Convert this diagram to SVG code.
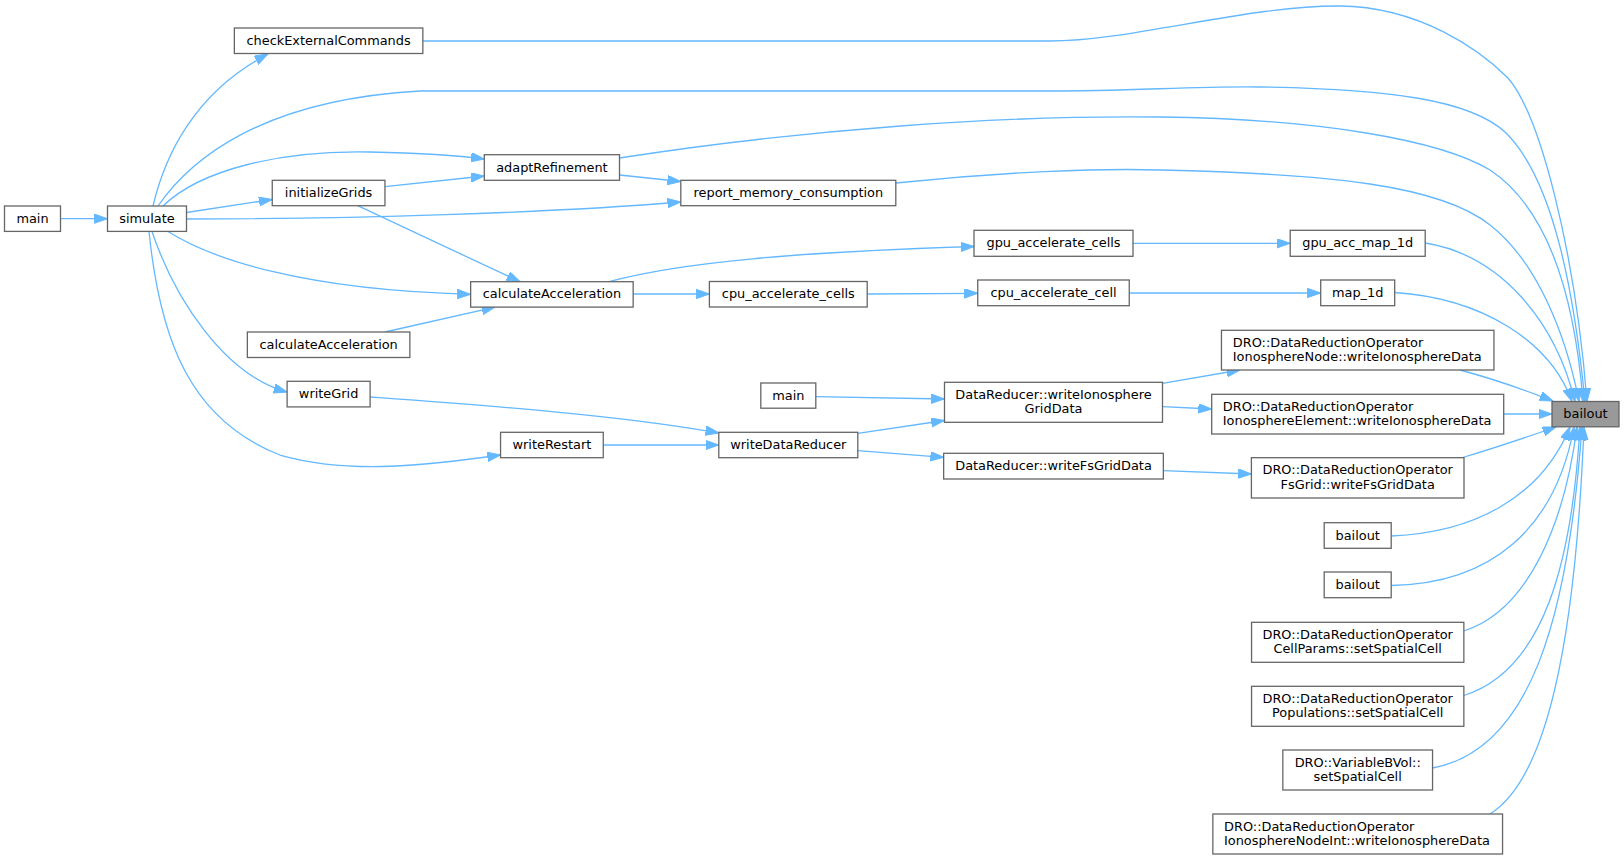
<svg xmlns="http://www.w3.org/2000/svg" width="1624" height="860" viewBox="0 0 1624 860">
<style>
.n rect{fill:#ffffff;stroke:#666666;stroke-width:1.3}
.n.hl rect{fill:#999999}
.n text{font-family:"DejaVu Sans","Liberation Sans",sans-serif;font-size:12.9px;fill:#000000;text-anchor:middle}
.n text.l{text-anchor:start}
#edges path{fill:none;stroke:#63b8ff;stroke-width:1.3;marker-end:url(#arr)}
</style>
<defs>
<marker id="arr" markerUnits="userSpaceOnUse" markerWidth="14" markerHeight="10" refX="13.3" refY="4.67" orient="auto">
<path d="M0,0 L13.3,4.67 L0,9.33 z" fill="#63b8ff" stroke="#63b8ff" stroke-width="1"/>
</marker>
</defs>
<rect x="0" y="0" width="1624" height="860" fill="#ffffff"/>
<g id="edges">
<path d="M60.5,218.7 L107.5,218.7"/>
<path d="M153,206 C165,155 195,92 268,54"/>
<path d="M158,206 C190,160 260,100 420,91 L1050,91 C1130,91 1200,86 1260,87 C1390,89 1470,100 1505,132 C1555,180 1575,300 1585,401.5"/>
<path d="M163,206 C200,170 280,150 370,152 C420,153 455,155 484.3,159"/>
<path d="M186.5,212.5 L272.25,199.5"/>
<path d="M186.5,219 C350,219 550,213 680.8,202"/>
<path d="M168,231.5 C210,258 300,290 470.65,294.3"/>
<path d="M152,231.5 C175,300 225,375 287.1,392"/>
<path d="M149,231.5 C160,340 190,420 280,455 C350,475 430,465 500.55,455"/>
<path d="M385,186.7 L484.3,176"/>
<path d="M357.7,205.7 L520,281.7"/>
<path d="M619.5,175 L680.8,181.5"/>
<path d="M619.5,158 C800,130 1000,115 1160,117 C1320,119 1440,140 1490,170 C1550,210 1575,300 1583,401.5"/>
<path d="M423,41 L1050,41 C1130,41 1250,5 1340,6 C1420,7 1480,50 1508,78 C1540,115 1575,250 1587,401.5"/>
<path d="M896,183 C1000,172 1100,168 1160,170 C1330,174 1440,185 1490,225 C1535,260 1565,330 1579,401.5"/>
<path d="M609,281.7 C680,262 800,252 974,246.5"/>
<path d="M633,294 L709.4,294"/>
<path d="M385,332 L495,307.2"/>
<path d="M1133,243.3 L1290.2,243.3"/>
<path d="M1425.2,243 C1500,255 1555,320 1575,401.5"/>
<path d="M867.2,294 L977.75,293.3"/>
<path d="M1129.25,293 L1320.7,293"/>
<path d="M1394.7,292.5 C1480,298 1550,340 1572,401.5"/>
<path d="M370.1,397 C480,405 620,415 718.8,433"/>
<path d="M603.25,445 L718.8,445"/>
<path d="M815.8,396.7 L944.5,399"/>
<path d="M857.8,433.3 L944.5,420.5"/>
<path d="M857.8,450.7 L943.65,457.3"/>
<path d="M1162.5,383.3 L1240,370"/>
<path d="M1162.5,406.7 L1211.7,409"/>
<path d="M1163.35,470.7 L1251.4,474"/>
<path d="M1460,370 C1490,378 1525,390 1553,401"/>
<path d="M1503.7,414 L1552,414"/>
<path d="M1461,458 C1495,448 1530,436 1556,427"/>
<path d="M1391.2,536 C1470,533 1540,500 1570,427"/>
<path d="M1391.2,585.5 C1490,584 1555,530 1574,427"/>
<path d="M1463.8,631 C1530,610 1565,520 1577,427"/>
<path d="M1463.8,695.5 C1545,670 1572,560 1580,427"/>
<path d="M1432.5,768 C1530,750 1568,620 1582,427"/>
<path d="M1490,814 C1545,780 1575,650 1584,427"/>
</g>
<g id="node-main1" class="n"><rect x="4.5" y="206" width="56" height="25.4"/><text x="32.5" y="222.7">main</text></g>
<g id="node-simulate" class="n"><rect x="107.5" y="206" width="79" height="25.4"/><text x="147" y="222.7">simulate</text></g>
<g id="node-checkExternalCommands" class="n"><rect x="234.35" y="28" width="188.5" height="25.5"/><text x="328.6" y="44.75">checkExternalCommands</text></g>
<g id="node-initializeGrids" class="n"><rect x="272.25" y="180.3" width="112.7" height="25.4"/><text x="328.6" y="197">initializeGrids</text></g>
<g id="node-calculateAcceleration2" class="n"><rect x="247.35" y="332" width="162.5" height="25.5"/><text x="328.6" y="348.75">calculateAcceleration</text></g>
<g id="node-writeGrid" class="n"><rect x="287.1" y="381.3" width="83" height="25.6"/><text x="328.6" y="398.1">writeGrid</text></g>
<g id="node-adaptRefinement" class="n"><rect x="484.3" y="154.7" width="135.2" height="25.6"/><text x="551.9" y="171.5">adaptRefinement</text></g>
<g id="node-calculateAcceleration" class="n"><rect x="470.65" y="281.7" width="162.5" height="25.4"/><text x="551.9" y="298.4">calculateAcceleration</text></g>
<g id="node-writeRestart" class="n"><rect x="500.55" y="432.3" width="102.7" height="25.4"/><text x="551.9" y="449">writeRestart</text></g>
<g id="node-report_memory_consumption" class="n"><rect x="680.8" y="180.3" width="215" height="25.4"/><text x="788.3" y="197">report_memory_consumption</text></g>
<g id="node-cpu_accelerate_cells" class="n"><rect x="709.4" y="281.5" width="157.8" height="25.5"/><text x="788.3" y="298.25">cpu_accelerate_cells</text></g>
<g id="node-main2" class="n"><rect x="760.8" y="383" width="55" height="25.2"/><text x="788.3" y="399.6">main</text></g>
<g id="node-writeDataReducer" class="n"><rect x="718.8" y="432.3" width="139" height="25.4"/><text x="788.3" y="449">writeDataReducer</text></g>
<g id="node-gpu_accelerate_cells" class="n"><rect x="974" y="230.3" width="159" height="26"/><text x="1053.5" y="247.3">gpu_accelerate_cells</text></g>
<g id="node-cpu_accelerate_cell" class="n"><rect x="977.75" y="280" width="151.5" height="25.7"/><text x="1053.5" y="296.85">cpu_accelerate_cell</text></g>
<g id="node-writeIonosphereGridData" class="n"><rect x="944.5" y="382.3" width="218" height="40"/><text x="1053.5" y="398.8">DataReducer::writeIonosphere</text><text x="1053.5" y="413.3">GridData</text></g>
<g id="node-writeFsGridData" class="n"><rect x="943.65" y="453.3" width="219.7" height="25.7"/><text x="1053.5" y="470.15">DataReducer::writeFsGridData</text></g>
<g id="node-gpu_acc_map_1d" class="n"><rect x="1290.2" y="230.3" width="135" height="26"/><text x="1357.7" y="247.3">gpu_acc_map_1d</text></g>
<g id="node-map_1d" class="n"><rect x="1320.7" y="280" width="74" height="25.7"/><text x="1357.7" y="296.85">map_1d</text></g>
<g id="node-IonosphereNode" class="n"><rect x="1221.45" y="330.3" width="272.5" height="39.7"/><text class="l" x="1232.8" y="346.7">DRO::DataReductionOperator</text><text class="l" x="1232.8" y="361.2">IonosphereNode::writeIonosphereData</text></g>
<g id="node-IonosphereElement" class="n"><rect x="1211.7" y="394.3" width="292" height="39.7"/><text class="l" x="1222.8" y="410.7">DRO::DataReductionOperator</text><text class="l" x="1222.8" y="425.2">IonosphereElement::writeIonosphereData</text></g>
<g id="node-FsGrid" class="n"><rect x="1251.4" y="457.7" width="212.6" height="40.3"/><text x="1357.7" y="474.3">DRO::DataReductionOperator</text><text x="1357.7" y="488.8">FsGrid::writeFsGridData</text></g>
<g id="node-bailout1" class="n"><rect x="1324.2" y="522.7" width="67" height="25.6"/><text x="1357.7" y="539.5">bailout</text></g>
<g id="node-bailout2" class="n"><rect x="1324.2" y="572" width="67" height="25.7"/><text x="1357.7" y="588.85">bailout</text></g>
<g id="node-CellParams" class="n"><rect x="1251.55" y="622.3" width="212.3" height="40"/><text x="1357.7" y="638.8">DRO::DataReductionOperator</text><text x="1357.7" y="653.3">CellParams::setSpatialCell</text></g>
<g id="node-Populations" class="n"><rect x="1251.55" y="686.3" width="212.3" height="40"/><text x="1357.7" y="702.8">DRO::DataReductionOperator</text><text x="1357.7" y="717.3">Populations::setSpatialCell</text></g>
<g id="node-VariableBVol" class="n"><rect x="1282.85" y="750" width="149.7" height="40"/><text x="1357.7" y="766.5">DRO::VariableBVol::</text><text x="1357.7" y="781">setSpatialCell</text></g>
<g id="node-IonosphereNodeInt" class="n"><rect x="1212.85" y="814" width="289.7" height="40"/><text class="l" x="1224" y="830.5">DRO::DataReductionOperator</text><text class="l" x="1224" y="845">IonosphereNodeInt::writeIonosphereData</text></g>
<g id="node-bailout" class="n hl"><rect x="1552" y="401.5" width="67" height="25.3"/><text x="1585.5" y="418.2">bailout</text></g>
</svg>
